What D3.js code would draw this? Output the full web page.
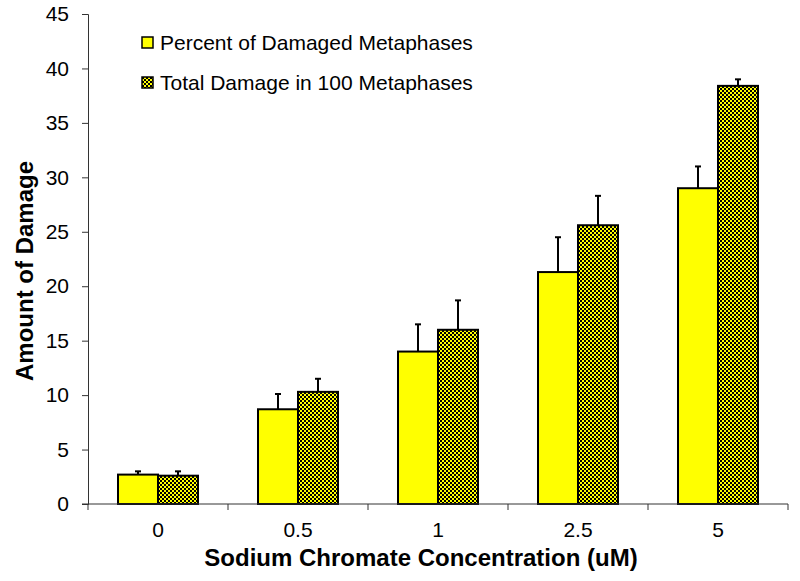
<!DOCTYPE html>
<html>
<head>
<meta charset="utf-8">
<script src="https://cdn.jsdelivr.net/npm/d3@7"></script>
<style>
  body { margin: 0; background: #fff; }
  text { font-family: "Liberation Sans", Arial, sans-serif; }
</style>
</head>
<body>
<div id="chart"></div>
<script>
  const categories = ["0", "0.5", "1", "2.5", "5"];
  const percentDamaged = [2.7, 8.7, 14.0, 21.3, 29.0];
  const percentErr = [0.3, 1.4, 2.5, 3.2, 2.0];
  const totalDamage = [2.6, 10.3, 16.0, 25.6, 38.4];
  const totalErr = [0.4, 1.2, 2.7, 2.7, 0.6];
  const yTicks = [0, 5, 10, 15, 20, 25, 30, 35, 40, 45];
  const seriesNames = ["Percent of Damaged Metaphases", "Total Damage in 100 Metaphases"];

  const width = 800, height = 581;
  const margin = { top: 14, right: 12, bottom: 77, left: 88 };

  const svg = d3.select("#chart").append("svg")
    .attr("width", width)
    .attr("height", height);

  // checkered fill for the second series
  const defs = svg.append("defs");
  const pat = defs.append("pattern")
    .attr("id", "checker")
    .attr("patternUnits", "userSpaceOnUse")
    .attr("width", 4)
    .attr("height", 4);
  pat.append("rect").attr("width", 4).attr("height", 4).attr("fill", "#ffff00");
  pat.append("rect").attr("width", 2).attr("height", 2).attr("fill", "#000");
  pat.append("rect").attr("x", 2).attr("y", 2).attr("width", 2).attr("height", 2).attr("fill", "#000");

  const x = d3.scaleBand()
    .domain(categories)
    .range([margin.left, width - margin.right]);

  const y = d3.scaleLinear()
    .domain([0, 45])
    .range([height - margin.bottom, margin.top]);

  const series = [
    { name: seriesNames[0], values: percentDamaged, err: percentErr, fill: "#ffff00" },
    { name: seriesNames[1], values: totalDamage, err: totalErr, fill: "url(#checker)" }
  ];

  const barW = 40;

  // error bars (upper only) - drawn first, bars cover the lower part
  series.forEach((s, si) => {
    categories.forEach((c, i) => {
      const cx = x(c) + x.bandwidth() / 2 - barW / 2 + si * barW;
      const top = y(s.values[i] + s.err[i]);
      svg.append("line")
        .attr("x1", cx).attr("x2", cx)
        .attr("y1", y(s.values[i])).attr("y2", top)
        .attr("stroke", "#000").attr("stroke-width", 2);
      svg.append("line")
        .attr("x1", cx - 3).attr("x2", cx + 3)
        .attr("y1", top).attr("y2", top)
        .attr("stroke", "#000").attr("stroke-width", 2);
    });
  });

  // bars
  series.forEach((s, si) => {
    const g = svg.append("g");
    categories.forEach((c, i) => {
      const x0 = x(c) + x.bandwidth() / 2 - barW + si * barW;
      g.append("rect")
        .attr("x", x0)
        .attr("y", y(s.values[i]))
        .attr("width", barW)
        .attr("height", y(0) - y(s.values[i]))
        .attr("fill", s.fill)
        .attr("stroke", "#000")
        .attr("stroke-width", 2);
    });
  });

  // y axis
  const yAxis = svg.append("g")
    .attr("transform", "translate(" + margin.left + ",0)")
    .call(d3.axisLeft(y).tickValues(yTicks).tickSize(6).tickPadding(13));
  yAxis.select(".domain").attr("stroke", "#333");
  yAxis.selectAll(".tick line").attr("stroke", "#333");
  yAxis.selectAll("text").style("font-size", "21px").attr("fill", "#000");

  // x axis
  const xAxis = svg.append("g")
    .attr("transform", "translate(0," + y(0) + ")")
    .call(d3.axisBottom(x).tickSize(0).tickPadding(18));
  xAxis.select(".domain").remove();
  xAxis.selectAll("text").style("font-size", "21px").attr("fill", "#000");
  svg.append("line")
    .attr("x1", margin.left - 6).attr("x2", width - margin.right)
    .attr("y1", y(0)).attr("y2", y(0))
    .attr("stroke", "#333");
  // category boundary ticks
  const bounds = categories.map(c => x(c)).concat([x(categories[categories.length - 1]) + x.bandwidth()]);
  svg.selectAll(".btick").data(bounds).enter().append("line")
    .attr("x1", d => d).attr("x2", d => d)
    .attr("y1", y(0)).attr("y2", y(0) + 6)
    .attr("stroke", "#333");

  // axis titles
  svg.append("text")
    .attr("transform", "translate(33,271)rotate(-90)")
    .attr("text-anchor", "middle")
    .style("font-size", "24px")
    .style("font-weight", "bold")
    .text("Amount of Damage");

  svg.append("text")
    .attr("x", 421)
    .attr("y", 566)
    .attr("text-anchor", "middle")
    .style("font-size", "24px")
    .style("font-weight", "bold")
    .text("Sodium Chromate Concentration (uM)");

  // legend
  const legend = svg.append("g").attr("transform", "translate(142,37)");
  series.forEach((s, i) => {
    const row = legend.append("g").attr("transform", "translate(0," + i * 40 + ")");
    row.append("rect")
      .attr("width", 11).attr("height", 11)
      .attr("fill", s.fill)
      .attr("stroke", "#000")
      .attr("stroke-width", 1.5);
    row.append("text")
      .attr("x", 18)
      .attr("y", 13)
      .style("font-size", "21px")
      .text(s.name);
  });
</script>
</body>
</html>
